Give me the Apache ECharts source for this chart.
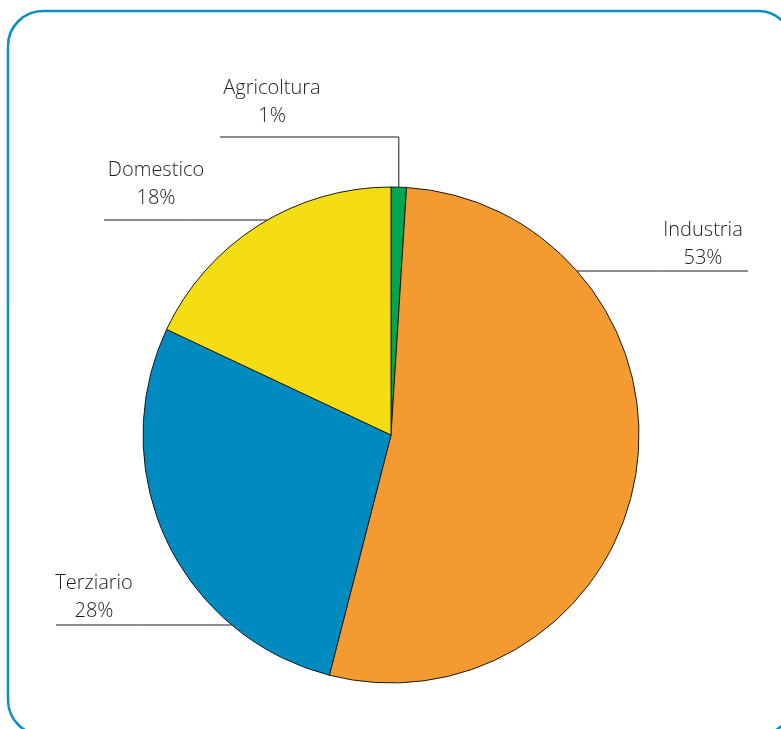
<!DOCTYPE html>
<html>
<head>
<meta charset="utf-8">
<script src="https://cdn.jsdelivr.net/npm/echarts@6/dist/echarts.min.js"></script>
<style>
  html, body { margin: 0; padding: 0; background: #ffffff; }
  #chart { width: 781px; height: 729px; }
</style>
</head>
<body>
<div id="chart"></div>
<script>
// Ripartizione dei consumi per settore (quote percentuali)
const sectors = ['Agricoltura', 'Industria', 'Terziario', 'Domestico'];
const shares = [1, 53, 28, 18];
const sliceColors = ['#00a551', '#f39b30', '#008bc0', '#f4dd12'];

// Pie geometry (pixels)
const CX = 391, CY = 435, R = 248;

// Label placement: label centre, leader line height and far end of the leader line
const labelSpots = {
  Agricoltura: { x: 272, y: 102, lineY: 137, endX: 220, vertical: true },
  Industria:   { x: 703, y: 244, lineY: 271, endX: 748 },
  Terziario:   { x: 94,  y: 597, lineY: 625, endX: 56 },
  Domestico:   { x: 156, y: 184, lineY: 220, endX: 104 }
};

const chart = echarts.init(document.getElementById('chart'), null, { renderer: 'canvas' });

chart.setOption({
  backgroundColor: '#ffffff',
  animation: false,
  graphic: [{
    type: 'rect',
    shape: { x: 8, y: 11, width: 785, height: 724, r: 35 },
    style: { fill: 'none', stroke: '#0a8fc4', lineWidth: 2.5 },
    silent: true,
    z: 0
  }],
  series: [{
    type: 'pie',
    center: [CX, CY],
    radius: R,
    startAngle: 90,
    clockwise: true,
    data: sectors.map((name, i) => ({
      name: name,
      value: shares[i],
      itemStyle: { color: sliceColors[i] }
    })),
    itemStyle: { borderColor: '#1a1a1a', borderWidth: 1 },
    emphasis: { disabled: true },
    label: {
      show: true,
      position: 'outside',
      formatter: p => p.name + '\n' + p.value + '%',
      fontFamily: '"Open Sans", sans-serif',
      fontSize: 20,
      fontWeight: 300,
      lineHeight: 28,
      color: '#1e1e1e',
      align: 'center'
    },
    labelLine: {
      show: true,
      lineStyle: { color: '#1a1a1a', width: 1 }
    },
    labelLayout: function (params) {
      const name = sectors[params.dataIndex];
      const s = labelSpots[name];
      let pts;
      if (s.vertical) {
        // leader from the slice's mid point on the rim, straight up then across
        const start = params.labelLinePoints[0];
        pts = [[start[0], start[1]], [start[0], s.lineY], [s.endX, s.lineY]];
      } else {
        // horizontal leader meeting the rim at its own height
        const dy = s.lineY - CY;
        const dx = Math.sqrt(R * R - dy * dy);
        const rimX = s.endX > CX ? CX + dx : CX - dx;
        pts = [[rimX, s.lineY], [(rimX + s.endX) / 2, s.lineY], [s.endX, s.lineY]];
      }
      return {
        x: s.x,
        y: s.y,
        align: 'center',
        verticalAlign: 'middle',
        labelLinePoints: pts
      };
    }
  }]
});
</script>
</body>
</html>
